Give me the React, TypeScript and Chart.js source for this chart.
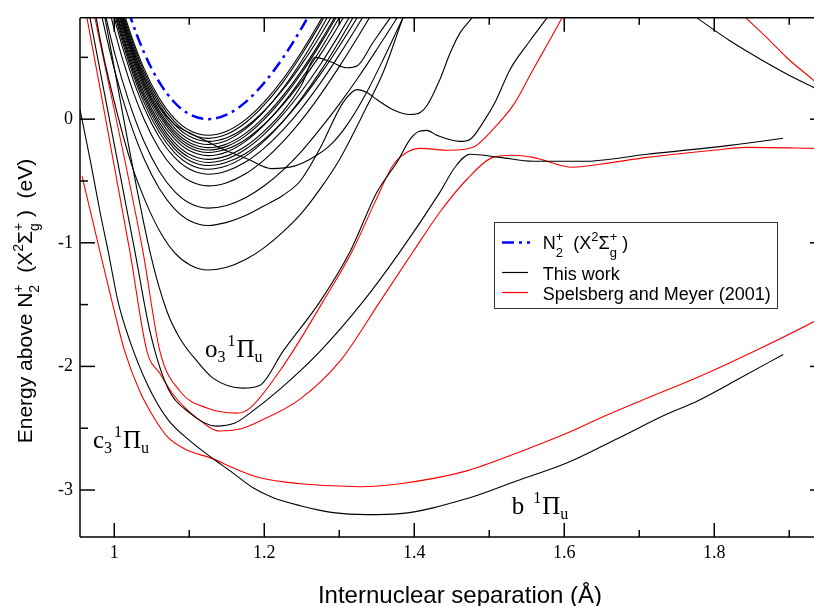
import React, { useEffect, useRef } from 'react';
import { Chart, registerables } from 'chart.js';

Chart.register(...registerables);

// ---------- axes ----------
const X_RANGE = [0.9543, 1.9330];
const Y_RANGE = [-3.38, 0.82];
const X_MAJOR = [1.0, 1.2, 1.4, 1.6, 1.8];
const X_MAJOR_LABELS = ['1', '1.2', '1.4', '1.6', '1.8'];
const X_MINOR = [1.1, 1.3, 1.5, 1.7, 1.9];
const Y_MAJOR = [0, -1, -2, -3];
const Y_MAJOR_LABELS = ['0', '-1', '-2', '-3'];
const Y_MINOR = [0.5, -0.5, -1.5, -2.5];

// ---------- N2+ ion curve (blue) ----------
const ION_CURVE = [[1.00, 1.265], [1.02, 0.854], [1.04, 0.535], [1.06, 0.299], [1.08, 0.137], [1.10, 0.041], [1.125, 0], [1.15, 0.036], [1.175, 0.138], [1.20, 0.295], [1.225, 0.497], [1.25, 0.739], [1.275, 1.011]];

// ---------- Rydberg bundle (this work), shared R grid ----------
const R_GRID = [0.98, 1.00, 1.02, 1.04, 1.06, 1.08, 1.10, 1.125, 1.15, 1.175, 1.20, 1.225, 1.25, 1.275, 1.30, 1.325, 1.35, 1.375, 1.40];
const RYD_1 = [1.65, 1.135, 0.724, 0.405, 0.169, 0.007, -0.089, -0.13, -0.097, -0.004, 0.14, 0.325, 0.548, 0.80, 1.08];
const RYD_2 = [1.625, 1.11, 0.699, 0.38, 0.144, -0.018, -0.114, -0.155, -0.122, -0.029, 0.115, 0.30, 0.523, 0.775, 1.055];
const RYD_3 = [1.60, 1.085, 0.674, 0.355, 0.119, -0.043, -0.139, -0.18, -0.15, -0.065, 0.068, 0.24, 0.445, 0.679, 0.937];
const RYD_4 = [1.575, 1.06, 0.649, 0.33, 0.094, -0.068, -0.164, -0.205, -0.172, -0.079, 0.065, 0.25, 0.473, 0.725, 1.005];
const RYD_5 = [1.55, 1.035, 0.624, 0.305, 0.069, -0.093, -0.189, -0.23, -0.20, -0.115, 0.018, 0.19, 0.395, 0.629, 0.887];
const RYD_6 = [1.53, 1.015, 0.604, 0.285, 0.049, -0.113, -0.209, -0.25, -0.22, -0.135, -0.002, 0.17, 0.375, 0.609, 0.867];
const RYD_7 = [1.51, 0.995, 0.584, 0.265, 0.029, -0.133, -0.229, -0.27, -0.242, -0.164, -0.041, 0.118, 0.308, 0.524, 0.766, 1.026];
const RYD_8 = [1.485, 0.97, 0.559, 0.24, 0.004, -0.158, -0.254, -0.295, -0.265, -0.18, -0.047, 0.125, 0.33, 0.564, 0.822, 1.098];
const RYD_10 = [1.43, 0.915, 0.504, 0.185, -0.051, -0.213, -0.309, -0.35, -0.322, -0.244, -0.121, 0.038, 0.228, 0.444, 0.686, 0.946];
const RYD_11 = [1.405, 0.89, 0.479, 0.16, -0.076, -0.238, -0.334, -0.375, -0.349, -0.277, -0.164, -0.017, 0.16, 0.364, 0.59, 0.832, 1.085];
const RYD_12 = [1.375, 0.86, 0.449, 0.13, -0.106, -0.268, -0.364, -0.405, -0.377, -0.299, -0.176, -0.017, 0.173, 0.389, 0.631, 0.891];
const RYD_13 = [1.335, 0.82, 0.409, 0.09, -0.146, -0.308, -0.404, -0.445, -0.419, -0.347, -0.234, -0.087, 0.09, 0.294, 0.52, 0.762, 1.015];
const RYD_14 = [1.24, 0.725, 0.314, -0.005, -0.241, -0.403, -0.499, -0.54, -0.514, -0.442, -0.329, -0.182, -0.005, 0.199, 0.425, 0.667, 0.92];
const RYD_15 = [1.06, 0.545, 0.134, -0.185, -0.421, -0.583, -0.679, -0.72, -0.698, -0.636, -0.539, -0.412, -0.258, -0.075, 0.122, 0.335, 0.564, 0.80, 1.05];

// ---------- individually traced curves (this work) ----------
const RYD_SHIFTED = [[0.98, 1.6], [1.00, 1.06], [1.02, 0.65], [1.04, 0.33], [1.06, 0.1], [1.08, -0.04], [1.10, -0.11], [1.1185, -0.164], [1.145, -0.244], [1.177, -0.32], [1.21, -0.40], [1.24, -0.38], [1.265, -0.31], [1.288, -0.21], [1.31, -0.05], [1.335, 0.2], [1.36, 0.5], [1.385, 0.82], [1.40, 1.0]];
const RYD_9_KINK = [[0.98, 1.455], [1.00, 0.94], [1.02, 0.529], [1.04, 0.21], [1.06, -0.026], [1.08, -0.188], [1.10, -0.284], [1.125, -0.325], [1.15, -0.297], [1.175, -0.219], [1.20, -0.096], [1.225, 0.063], [1.25, 0.28], [1.268, 0.50], [1.29, 0.46], [1.31, 0.416], [1.324, 0.432], [1.345, 0.62], [1.368, 0.819], [1.385, 0.95]];
const RYD_N4_DIP = [[0.98, 0.92], [1.00, 0.405], [1.02, -0.006], [1.04, -0.325], [1.06, -0.561], [1.08, -0.723], [1.10, -0.819], [1.125, -0.86], [1.15, -0.835], [1.175, -0.78], [1.20, -0.70], [1.225, -0.615], [1.248, -0.50], [1.274, -0.24], [1.305, 0.134], [1.324, 0.239], [1.337, 0.215], [1.35, 0.159], [1.374, 0.07], [1.394, 0.038], [1.408, 0.054], [1.417, 0.11], [1.434, 0.319], [1.448, 0.537], [1.461, 0.698], [1.477, 0.819], [1.49, 0.92]];
const RYD_N3 = [[0.96, 1.37], [0.984, 0.56], [1.004, 0.045], [1.023, -0.366], [1.043, -0.685], [1.062, -0.921], [1.081, -1.083], [1.101, -1.179], [1.125, -1.22], [1.15, -1.198], [1.175, -1.136], [1.20, -1.039], [1.225, -0.912], [1.25, -0.758], [1.275, -0.56], [1.30, -0.33], [1.33, 0.02], [1.36, 0.40], [1.385, 0.82], [1.40, 1.05]];
const O3_THIS = [[0.975, 1.22], [0.9876, 0.819], [1.0476, -1.073], [1.0703, -1.556], [1.0876, -1.774], [1.1103, -1.958], [1.1316, -2.095], [1.1716, -2.176], [1.1943, -2.152], [1.2249, -1.878], [1.2743, -1.476], [1.3143, -1.073], [1.3503, -0.59], [1.3769, -0.349], [1.3943, -0.164], [1.4036, -0.107], [1.4169, -0.091], [1.4303, -0.131], [1.4609, -0.18], [1.4743, -0.164], [1.4943, -0.002], [1.5076, 0.134], [1.5276, 0.4], [1.5543, 0.634], [1.5769, 0.819], [1.588, 0.915]];
const C3_THIS = [[0.955, 1.22], [0.9676, 0.819], [0.9969, -0.107], [1.0276, -1.073], [1.0476, -1.717], [1.0703, -2.16], [1.1009, -2.378], [1.1356, -2.483], [1.1609, -2.458], [1.1809, -2.378], [1.2209, -2.184], [1.2743, -1.878], [1.3316, -1.476], [1.3809, -1.073], [1.4343, -0.59], [1.4543, -0.389], [1.4743, -0.284], [1.5143, -0.309], [1.5583, -0.341], [1.6249, -0.341], [1.7103, -0.284], [1.8209, -0.212], [1.8916, -0.155]];
const B_THIS = [[0.9543, 0.078], [0.968, -0.333], [0.981, -0.751], [0.992, -1.073], [1.005, -1.476], [1.021, -1.798], [1.044, -2.144], [1.07, -2.418], [1.101, -2.603], [1.132, -2.748], [1.158, -2.861], [1.185, -2.982], [1.212, -3.062], [1.248, -3.127], [1.292, -3.183], [1.337, -3.199], [1.381, -3.191], [1.47, -3.07], [1.537, -2.925], [1.604, -2.78], [1.67, -2.587], [1.737, -2.386], [1.777, -2.281], [1.834, -2.096], [1.892, -1.903]];
const REPULSIVE_THIS = [[1.7409, 0.974], [1.7769, 0.819], [1.8209, 0.634], [1.8649, 0.473], [1.9009, 0.352], [1.9329, 0.255], [1.95, 0.2]];

// ---------- Spelsberg and Meyer (2001) ----------
const B_SM = [[0.957, -0.461], [0.981, -1.073], [0.997, -1.476], [1.014, -1.878], [1.034, -2.201], [1.054, -2.426], [1.07, -2.563], [1.094, -2.668], [1.132, -2.748], [1.158, -2.82], [1.194, -2.901], [1.248, -2.949], [1.328, -2.973], [1.381, -2.949], [1.47, -2.845], [1.537, -2.7], [1.604, -2.539], [1.648, -2.418], [1.701, -2.281], [1.781, -2.08], [1.861, -1.855], [1.933, -1.637], [1.95, -1.58]];
const C3_SM = [[0.955, 1.1], [0.9636, 0.819], [1.0209, -1.073], [1.0436, -1.878], [1.0609, -2.057], [1.0783, -2.225], [1.1103, -2.418], [1.1409, -2.523], [1.1676, -2.507], [1.1943, -2.442], [1.2476, -2.265], [1.3009, -1.958], [1.3543, -1.476], [1.3983, -1.073], [1.4343, -0.751], [1.4703, -0.486], [1.5049, -0.309], [1.5316, -0.292], [1.5583, -0.309], [1.6116, -0.389], [1.6476, -0.365], [1.7103, -0.309], [1.7983, -0.252], [1.8436, -0.228], [1.9329, -0.236], [1.95, -0.238]];
const O3_SM = [[0.962, 1.19], [0.9743, 0.819], [1.0383, -1.073], [1.0609, -1.878], [1.0876, -2.201], [1.1236, -2.337], [1.1636, -2.378], [1.1809, -2.337], [1.2276, -1.975], [1.2783, -1.476], [1.3169, -1.073], [1.3476, -0.671], [1.3716, -0.373], [1.3903, -0.268], [1.4076, -0.236], [1.4476, -0.252], [1.4783, -0.228], [1.5049, -0.083], [1.5343, 0.134], [1.5583, 0.4], [1.5809, 0.642], [1.5969, 0.819], [1.607, 0.924]];
const REPULSIVE_SM = [[1.8223, 0.94], [1.8423, 0.819], [1.8703, 0.658], [1.8969, 0.497], [1.9329, 0.312], [1.95, 0.22]];

// ---------- annotations (data coordinates) ----------
const LABEL_C3_AT = [0.9716, -2.659];
const LABEL_O3_AT = [1.121, -1.927];
const LABEL_B_AT = [1.530, -3.191];

const SANS = '"Liberation Sans", Arial, Helvetica, sans-serif';
const SERIF = '"Liberation Serif", "Times New Roman", serif';

type Seg = { t?: string; sub?: string; sup?: string; gap?: number };
type RichOpt = { family: string; size: number; small: number; rise: number; drop: number };

function drawRich(ctx: CanvasRenderingContext2D, x: number, y: number, segs: Seg[], o: RichOpt, draw = true) {
  let cx = x;
  for (const s of segs) {
    if (s.gap) cx += s.gap;
    if (s.t) {
      ctx.font = `${o.size}px ${o.family}`;
      if (draw) ctx.fillText(s.t, cx, y);
      cx += ctx.measureText(s.t).width;
    }
    if (s.sub || s.sup) {
      ctx.font = `${o.small}px ${o.family}`;
      let w = 0;
      if (s.sup) {
        if (draw) ctx.fillText(s.sup, cx, y - o.rise);
        w = Math.max(w, ctx.measureText(s.sup).width);
      }
      if (s.sub) {
        if (draw) ctx.fillText(s.sub, cx, y + o.drop);
        w = Math.max(w, ctx.measureText(s.sub).width);
      }
      cx += w;
    }
  }
  return cx - x;
}

const ION_SEGS: Seg[] = [{ t: 'N' }, { sub: '2', sup: '+' }, { t: '  (X' }, { sup: '2' }, { t: 'Σ' }, { sub: 'g', sup: '+' }, { t: ' )' }];
const YTITLE_SEGS: Seg[] = [{ t: 'Energy above N' }, { sub: '2', sup: '+' }, { t: '  (X' }, { sup: '2' }, { t: 'Σ' }, { sub: 'g', sup: '+' }, { t: ' )  (eV)' }];

const decorPlugin = {
  id: 'decor',
  afterDraw(chart: any) {
    const { ctx, chartArea: a, scales } = chart;
    const xs = scales.x;
    const ys = scales.y;
    const rightAxis = a.right + 11; // right axis lies just beyond the visible page
    ctx.save();
    ctx.strokeStyle = '#000';
    ctx.lineWidth = 1.5;
    const seg = (x1: number, y1: number, x2: number, y2: number) => {
      ctx.beginPath();
      ctx.moveTo(x1, y1);
      ctx.lineTo(x2, y2);
      ctx.stroke();
    };
    seg(a.left, a.top, rightAxis, a.top);
    seg(a.left, a.bottom, rightAxis, a.bottom);
    seg(a.left, a.top, a.left, a.bottom);
    const xt = (vals: number[], len: number) => vals.forEach((v) => {
      const p = xs.getPixelForValue(v);
      seg(p, a.bottom, p, a.bottom - len);
      seg(p, a.top, p, a.top + len);
    });
    const yt = (vals: number[], len: number) => vals.forEach((v) => {
      const p = ys.getPixelForValue(v);
      seg(a.left, p, a.left + len, p);
      seg(rightAxis, p, rightAxis - len, p);
    });
    xt(X_MAJOR, 14);
    xt(X_MINOR, 7);
    yt(Y_MAJOR, 15);
    yt(Y_MINOR, 8);

    // legend
    ctx.fillStyle = '#fff';
    ctx.fillRect(494.5, 222.5, 283, 86);
    ctx.strokeStyle = '#333';
    ctx.lineWidth = 1;
    ctx.strokeRect(494.5, 222.5, 283, 86);
    ctx.lineWidth = 2.5;
    ctx.strokeStyle = '#0000ff';
    ctx.setLineDash([12, 5, 3, 5]);
    seg(502, 242.5, 530, 242.5);
    ctx.setLineDash([]);
    ctx.lineWidth = 1.2;
    ctx.strokeStyle = '#000';
    seg(502, 272.5, 528, 272.5);
    ctx.strokeStyle = '#ff0000';
    seg(502, 292.5, 528, 292.5);
    ctx.fillStyle = '#000';
    ctx.textBaseline = 'alphabetic';
    ctx.textAlign = 'left';
    drawRich(ctx, 542.7, 248.7, ION_SEGS, { family: SANS, size: 18, small: 13, rise: 8, drop: 8 });
    ctx.font = `18px ${SANS}`;
    ctx.fillText('This work', 542.7, 280);
    ctx.fillText('Spelsberg and Meyer (2001)', 542.7, 299.5);

    // axis titles
    ctx.font = `24px ${SANS}`;
    ctx.textAlign = 'center';
    ctx.fillText('Internuclear separation (Å)', 460, 603);
    ctx.textAlign = 'left';
    const yo = { family: SANS, size: 21, small: 14, rise: 9, drop: 7 };
    const w = drawRich(ctx, 0, 0, YTITLE_SEGS, yo, false);
    ctx.save();
    ctx.translate(32, 301);
    ctx.rotate(-Math.PI / 2);
    drawRich(ctx, -w / 2, 0, YTITLE_SEGS, yo);
    ctx.restore();

    // state labels
    const so = { family: SERIF, size: 25, small: 16, rise: 11, drop: 5 };
    const at = (p: number[]) => [xs.getPixelForValue(p[0]), ys.getPixelForValue(p[1])];
    let q = at(LABEL_C3_AT);
    drawRich(ctx, q[0], q[1], [{ t: 'c' }, { sub: '3' }, { gap: 2, sup: '1' }, { gap: 1, t: 'Π' }, { sub: 'u' }], so);
    q = at(LABEL_O3_AT);
    drawRich(ctx, q[0], q[1], [{ t: 'o' }, { sub: '3' }, { gap: 2, sup: '1' }, { gap: 1, t: 'Π' }, { sub: 'u' }], so);
    q = at(LABEL_B_AT);
    drawRich(ctx, q[0], q[1], [{ t: 'b' }, { gap: 9, sup: '1' }, { gap: 1, t: 'Π' }, { sub: 'u' }], so);
    ctx.restore();
  },
};

const pairs = (p: number[][]) => p.map(([x, y]) => ({ x, y }));
const onGrid = (ys: number[]) => ys.map((y, i) => ({ x: R_GRID[i], y }));

function lineSet(data: any[], color: string, width = 1.1, dash: number[] = []) {
  return {
    data,
    borderColor: color,
    borderWidth: width,
    borderDash: dash,
    pointRadius: 0,
    fill: false,
    cubicInterpolationMode: 'monotone',
  };
}

export default function App() {
  const ref = useRef<HTMLCanvasElement>(null);
  useEffect(() => {
    const BLACK = '#000000';
    const RED = '#ff0000';
    const datasets = [
      lineSet(pairs(ION_CURVE), '#0000ff', 2.5, [12, 5, 3, 5]),
      ...[RYD_1, RYD_2, RYD_3, RYD_4, RYD_5, RYD_6, RYD_7, RYD_8, RYD_10, RYD_11, RYD_12, RYD_13, RYD_14, RYD_15].map((r) => lineSet(onGrid(r), BLACK)),
      lineSet(pairs(RYD_SHIFTED), BLACK),
      lineSet(pairs(RYD_9_KINK), BLACK),
      lineSet(pairs(RYD_N4_DIP), BLACK),
      lineSet(pairs(RYD_N3), BLACK),
      lineSet(pairs(O3_THIS), BLACK),
      lineSet(pairs(C3_THIS), BLACK),
      lineSet(pairs(B_THIS), BLACK),
      lineSet(pairs(REPULSIVE_THIS), BLACK),
      lineSet(pairs(B_SM), RED),
      lineSet(pairs(C3_SM), RED),
      lineSet(pairs(O3_SM), RED),
      lineSet(pairs(REPULSIVE_SM), RED),
    ];
    const chart = new Chart(ref.current as HTMLCanvasElement, {
      type: 'line',
      data: { datasets } as any,
      options: {
        animation: false,
        responsive: false,
        devicePixelRatio: 1,
        events: [],
        layout: { padding: { top: 15, right: 0, left: 0, bottom: 0 } },
        elements: { line: { capBezierPoints: false } },
        plugins: { legend: { display: false }, tooltip: { enabled: false } },
        scales: {
          x: {
            type: 'linear',
            min: X_RANGE[0],
            max: X_RANGE[1],
            grid: { display: false, drawTicks: false },
            border: { display: false },
            afterBuildTicks: (s: any) => { s.ticks = X_MAJOR.map((v) => ({ value: v })); },
            afterFit: (s: any) => { s.height = 69; },
            ticks: {
              autoSkip: false,
              maxRotation: 0,
              padding: 5,
              color: '#000',
              font: { family: SERIF, size: 18 },
              callback: (_v: any, i: number) => X_MAJOR_LABELS[i],
            },
          },
          y: {
            type: 'linear',
            min: Y_RANGE[0],
            max: Y_RANGE[1],
            grid: { display: false, drawTicks: false },
            border: { display: false },
            afterBuildTicks: (s: any) => { s.ticks = Y_MAJOR.map((v) => ({ value: v })); },
            afterFit: (s: any) => { s.width = 80; },
            ticks: {
              autoSkip: false,
              padding: 7,
              color: '#000',
              font: { family: SERIF, size: 18 },
              callback: (_v: any, i: number) => Y_MAJOR_LABELS[i],
            },
          },
        },
      } as any,
      plugins: [decorPlugin],
    });
    return () => chart.destroy();
  }, []);
  return (
    <div style={{ position: 'fixed', left: 0, top: 0, width: 814, height: 606, background: '#fff' }}>
      <canvas ref={ref} width={814} height={606} style={{ display: 'block', width: 814, height: 606 }} />
    </div>
  );
}
